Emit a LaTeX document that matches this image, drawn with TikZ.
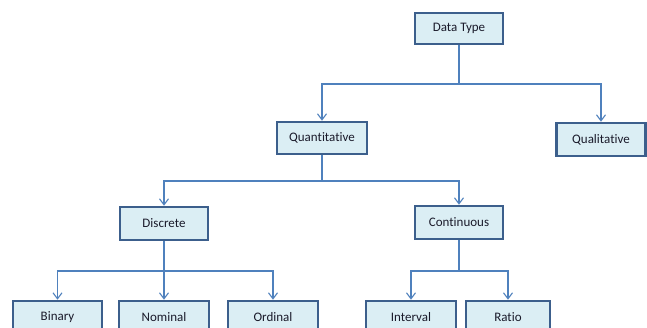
\documentclass[tikz,border=0pt]{standalone}
\usepackage{fontspec}
\setmainfont{Carlito}[Ligatures=NoCommon]
\usetikzlibrary{arrows.meta}
\definecolor{boxfill}{HTML}{DBEEF4}
\definecolor{boxline}{HTML}{3C5F8C}
\definecolor{connline}{HTML}{4F81BD}
\definecolor{txt}{HTML}{1A1A2A}
\tikzset{
  tbox/.style={draw=boxline, fill=boxfill, line width=2.6pt, minimum height=31pt,
    minimum width=88pt, inner sep=0pt, text=txt, font=\fontsize{13}{15}\selectfont},
  conn/.style={draw=connline, line width=1.3pt, -{Straight Barb[length=6pt,width=9pt,line width=1.1pt]}}
}
\begin{document}
\begin{tikzpicture}[x=1pt,y=-1pt]
\useasboundingbox (0,0) rectangle (647,328);
\clip (0,0) rectangle (647,328);
\fill[white] (0,0) rectangle (647,328);
\node[tbox] (dt) at (459,28.5) {Data Type};
\node[tbox, minimum width=90pt, minimum height=32pt] (quant) at (322,138) {Quantitative};
\node[tbox, minimum width=89pt, minimum height=33pt] (qual) at (601,139.5) {Qualitative};
\node[tbox, minimum height=33pt] (disc) at (164,223.5) {Discrete};
\node[tbox, minimum height=33pt] (cont) at (459,222.5) {Continuous};
\node[tbox, minimum width=89pt, minimum height=32pt] (bin) at (57.5,317) {Binary};
\node[tbox, minimum width=90pt, minimum height=32pt] (nom) at (164,317) {Nominal};
\node[tbox, minimum width=90pt, minimum height=32pt] (ord) at (273,317) {Ordinal};
\node[tbox, minimum width=90pt, minimum height=32pt] (int) at (411,317) {Interval};
\node[tbox, minimum width=84pt, minimum height=32pt] (rat) at (508,317) {Ratio};
\coordinate (b1) at (459,84);
\coordinate (b2) at (322,181);
\coordinate (b3) at (164,271);
\coordinate (b4) at (459,271);
\draw[conn] (dt.south) -- (dt.south |- b1) -| (quant.north);
\draw[conn] (dt.south |- b1) -| (qual.north);
\draw[conn] (quant.south) -- (quant.south |- b2) -| (disc.north);
\draw[conn] (quant.south |- b2) -| (cont.north);
\draw[conn] (disc.south) -- (nom.north);
\draw[conn] (disc.south |- b3) -| (bin.north);
\draw[conn] (disc.south |- b3) -| (ord.north);
\draw[conn] (cont.south) -- (cont.south |- b4) -| (int.north);
\draw[conn] (cont.south |- b4) -| (rat.north);
\end{tikzpicture}
\end{document}
